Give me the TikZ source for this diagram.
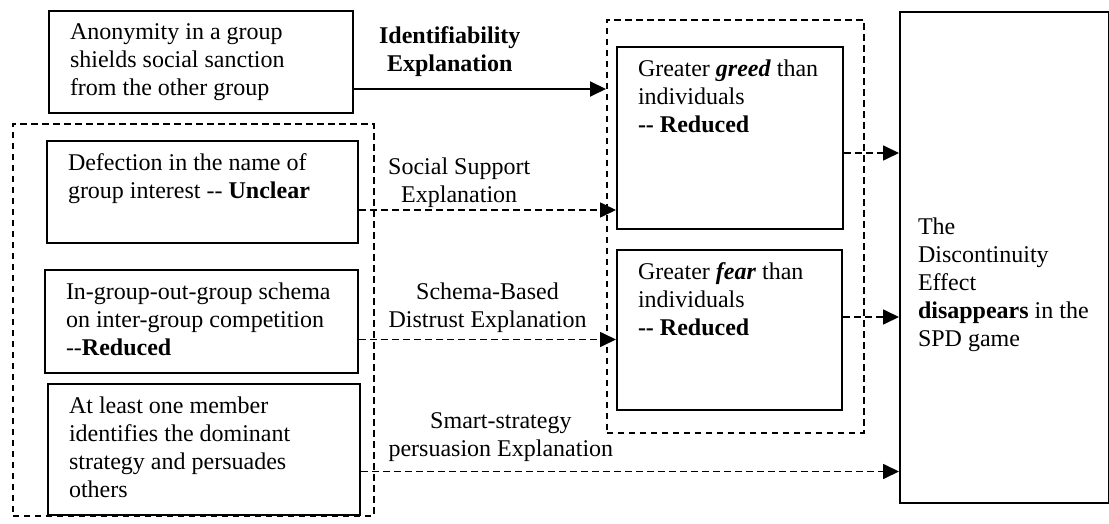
\documentclass[tikz,border=0pt]{standalone}
\usepackage{fontspec}
\setmainfont{Liberation Serif}
\usetikzlibrary{arrows.meta, positioning}

\newcommand{\boxtext}[3]{\parbox[t][#2][t]{#1}{\raggedright #3}}

\begin{document}
\begin{tikzpicture}[x=1pt, y=-1pt,
    every node/.style={font=\fontsize{24}{28}\selectfont},
    caja/.style={draw, line width=2pt, anchor=north west, inner xsep=21pt, inner ysep=13pt},
    grupo/.style={draw, line width=1.7pt, dash pattern=on 6.5pt off 4.5pt, anchor=north west, inner sep=0pt},
    flecha/.style={line width=2pt, -{Triangle[length=16pt, width=15pt]}},
    flechad/.style={flecha, line width=1.7pt, dash pattern=on 6.5pt off 4.5pt},
    etiqueta/.style={align=center, inner sep=0pt}]
  \useasboundingbox (0,0) rectangle (1109,524);

  % grupos
  \node[grupo, minimum width=361pt, minimum height=392pt] (izq) at (12,123) {};
  \node[grupo, minimum width=257pt, minimum height=413pt] (mid) at (606,19) {};

  % cajas
  \node[caja] (anon) at (48,10) {\boxtext{262pt}{76pt}{Anonymity in a group\\shields social sanction\\from the other group}};
  \node[caja] (defec) at (46,140) {\boxtext{269pt}{76pt}{Defection in the name of\\group interest -{}- \textbf{Unclear}}};
  \node[caja] (esquema) at (44,269) {\boxtext{271pt}{77pt}{In-group-out-group schema\\on inter-group competition\\-{}-\textbf{Reduced}}};
  \node[caja] (miembro) at (47,383) {\boxtext{270pt}{105pt}{At least one member\\identifies the dominant\\strategy and persuades\\others}};
  \node[caja] (codicia) at (616,46) {\boxtext{184pt}{156pt}{Greater \textbf{\textit{greed}} than\\individuals\\\textbf{-{}- Reduced}}};
  \node[caja, below=19pt of codicia.south west, anchor=north west] (miedo) {\boxtext{183pt}{134pt}{Greater \textbf{\textit{fear}} than\\individuals\\\textbf{-{}- Reduced}}};
  \node[caja, inner xsep=18pt] (efecto) at (899,11) {\boxtext{173pt}{465pt}{\vspace*{193pt}The\\Discontinuity\\Effect\\\textbf{disappears} in the\\SPD game}};

  % flechas
  \draw[flecha] ([yshift=-27pt]anon.east) -- ([yshift=-27pt]anon.east -| mid.west)
    node[etiqueta, pos=0.38, above=11pt] {\textbf{Identifiability}\\\textbf{Explanation}};
  \draw[flechad] ([yshift=-18pt]defec.east) -- ([yshift=-18pt]defec.east -| codicia.west)
    node[etiqueta, pos=0.39, above=2pt] {Social Support\\Explanation};
  \draw[flechad] ([yshift=-18pt]esquema.east) -- ([yshift=-18pt]esquema.east -| miedo.west)
    node[etiqueta, pos=0.5, above=6pt] {Schema-Based\\Distrust Explanation};
  \draw[flechad] ([yshift=-22pt]miembro.east) -- ([yshift=-22pt]miembro.east -| efecto.west)
    node[etiqueta, pos=0.26, above=9pt] {Smart-strategy\\persuasion Explanation};
  \draw[flechad] ([yshift=-15pt]codicia.east) -- ([yshift=-15pt]codicia.east -| efecto.west);
  \draw[flechad] ([yshift=13pt]miedo.east) -- ([yshift=13pt]miedo.east -| efecto.west);
\end{tikzpicture}
\end{document}
